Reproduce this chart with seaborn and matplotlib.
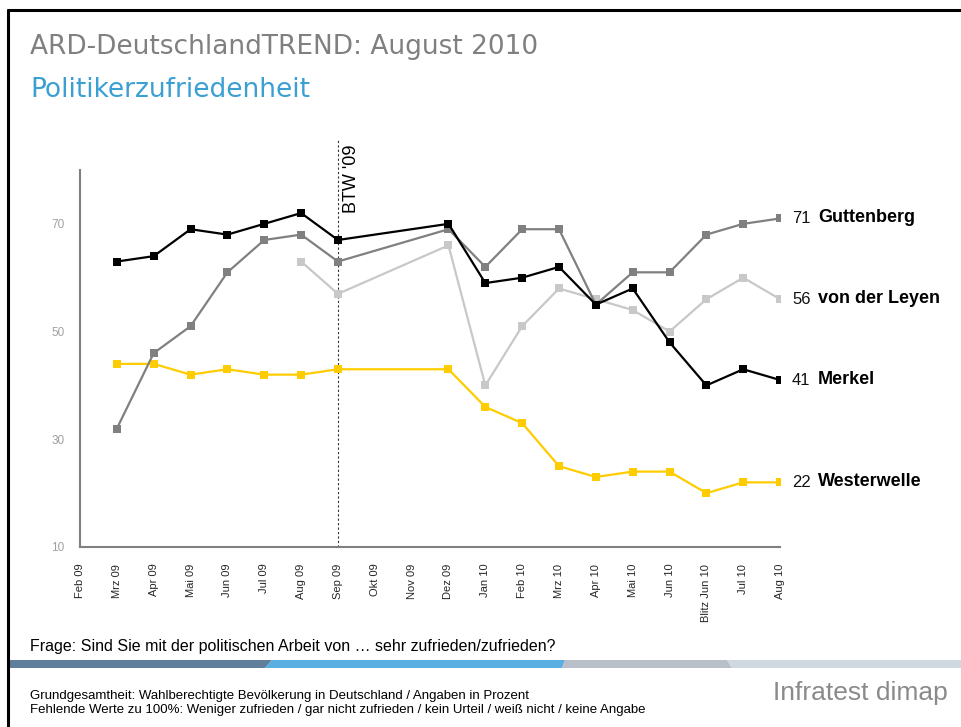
import numpy as np
import pandas as pd
import seaborn as sns
import matplotlib.pyplot as plt
from matplotlib.lines import Line2D
from matplotlib.patches import Polygon

# Monthly survey waves (x axis)
months = ["Feb 09", "Mrz 09", "Apr 09", "Mai 09", "Jun 09", "Jul 09", "Aug 09",
          "Sep 09", "Okt 09", "Nov 09", "Dez 09", "Jan 10", "Feb 10", "Mrz 10",
          "Apr 10", "Mai 10", "Jun 10", "Blitz Jun 10", "Jul 10", "Aug 10"]

nan = np.nan
# Share "sehr zufrieden/zufrieden" in percent
westerwelle = [nan, 44, 44, 42, 43, 42, 42, 43, nan, nan, 43, 36, 33, 25, 23, 24, 24, 20, 22, 22]
leyen = [nan, nan, nan, nan, nan, nan, 63, 57, nan, nan, 66, 40, 51, 58, 56, 54, 50, 56, 60, 56]
guttenberg = [nan, 32, 46, 51, 61, 67, 68, 63, nan, nan, 69, 62, 69, 69, 55, 61, 61, 68, 70, 71]
merkel = [nan, 63, 64, 69, 68, 70, 72, 67, nan, nan, 70, 59, 60, 62, 55, 58, 48, 40, 43, 41]

names = ["Westerwelle", "von der Leyen", "Guttenberg", "Merkel"]
colors = ["#ffcc00", "#c8c8c8", "#808080", "#000000"]
series = [westerwelle, leyen, guttenberg, merkel]

yticks = [10, 30, 50, 70]

sns.set_style("white")
plt.rcParams["font.family"] = ["Liberation Sans", "DejaVu Sans"]

fig = plt.figure(figsize=(9.62, 7.27), dpi=100)
ax = fig.add_axes([0.0832, 0.2476, 0.7277, 0.5186])

pos = np.arange(len(months))
for i, (name, col, vals) in enumerate(zip(names, colors, series)):
    df = pd.DataFrame({"pos": pos, "value": vals}).dropna()
    sns.lineplot(data=df, x="pos", y="value", ax=ax, color=col, marker="s",
                 markersize=6, markeredgewidth=0, linewidth=1.6, zorder=3 + i)
    last = df["value"].iloc[-1]
    ax.annotate(f"{last:.0f}", xy=(df["pos"].iloc[-1], last), xytext=(12, 0),
                textcoords="offset pixels", ha="left", va="center",
                fontsize=12, color="#111111", annotation_clip=False)
    ax.annotate(name, xy=(df["pos"].iloc[-1], last), xytext=(38, 1),
                textcoords="offset pixels", ha="left", va="center",
                fontsize=13, fontweight="bold", color="#000000", annotation_clip=False)

# Bundestagswahl marker
btw = months.index("Sep 09")
ax.axvline(btw, ymin=0, ymax=1.08, color="#333333", lw=0.8, ls=(0, (2, 2)),
           clip_on=False, zorder=2)
ax.annotate("BTW '09", xy=(btw, 72), xytext=(5, 0), textcoords="offset pixels",
            rotation=90, ha="left", va="bottom", fontsize=13, color="#000000",
            annotation_clip=False)

ax.set_xlim(0, len(months) - 1)
ax.set_ylim(10, 80)
ax.set_xticks(pos)
ax.set_xticklabels(months, rotation=90, fontsize=8)
ax.set_yticks(yticks)
ax.set_yticklabels([str(t) for t in yticks], fontsize=8.5, color="#a0a0a0")
ax.tick_params(axis="x", length=3, width=1, color="#808080", pad=9, direction="out")
ax.tick_params(axis="y", length=0, pad=11)
ax.set_xlabel("")
ax.set_ylabel("")
for s in ["top", "right"]:
    ax.spines[s].set_visible(False)
for s in ["left", "bottom"]:
    ax.spines[s].set_color("#808080")
    ax.spines[s].set_linewidth(1.5)
ax.patch.set_alpha(0)

# Header
fig.text(0.0312, 0.9353, "ARD-DeutschlandTREND: August 2010", fontsize=19,
         color="#808080", va="center", ha="left", family=["DejaVu Sans"])
fig.text(0.0312, 0.876, "Politikerzufriedenheit", fontsize=19,
         color="#3a9fd3", va="center", ha="left", family=["DejaVu Sans"])

# Question and footer
fig.text(0.0312, 0.1114, "Frage: Sind Sie mit der politischen Arbeit von \u2026 sehr zufrieden/zufrieden?",
         fontsize=11.5, color="#000000", va="center", ha="left")
fig.text(0.0312, 0.0426, "Grundgesamtheit: Wahlberechtigte Bevölkerung in Deutschland / Angaben in Prozent",
         fontsize=9.5, color="#000000", va="center", ha="left")
fig.text(0.0312, 0.0234, "Fehlende Werte zu 100%: Weniger zufrieden / gar nicht zufrieden / kein Urteil / weiß nicht / keine Angabe",
         fontsize=9.5, color="#000000", va="center", ha="left")
fig.text(0.9855, 0.0468, "Infratest dimap", fontsize=19, color="#8a8a8a",
         va="center", ha="right")

# Coloured band: (bottom-left, top-left, bottom-right, top-right) in pixels
W, H = 962.0, 727.0
y0, y1 = 1 - 668 / H, 1 - 660 / H
band = [(8, 8, 265, 272, "#5f7f9b"), (265, 272, 562, 565, "#5aaee0"),
        (562, 565, 732, 727, "#b8bfc8"), (732, 727, 962, 962, "#cdd8df")]
for bl, tl, br, tr, col in band:
    pts = [(bl / W, y0), (br / W, y0), (tr / W, y1), (tl / W, y1)]
    fig.patches.append(Polygon(pts, closed=True, transform=fig.transFigure,
                               facecolor=col, edgecolor="none"))

# Slide frame (top and left)
fig.add_artist(Line2D([8 / W, 1], [1 - 10 / H, 1 - 10 / H], color="black", lw=2.2))
fig.add_artist(Line2D([8 / W, 8 / W], [0, 1 - 10 / H], color="black", lw=2.2))

fig.savefig("out.png", dpi=100)
